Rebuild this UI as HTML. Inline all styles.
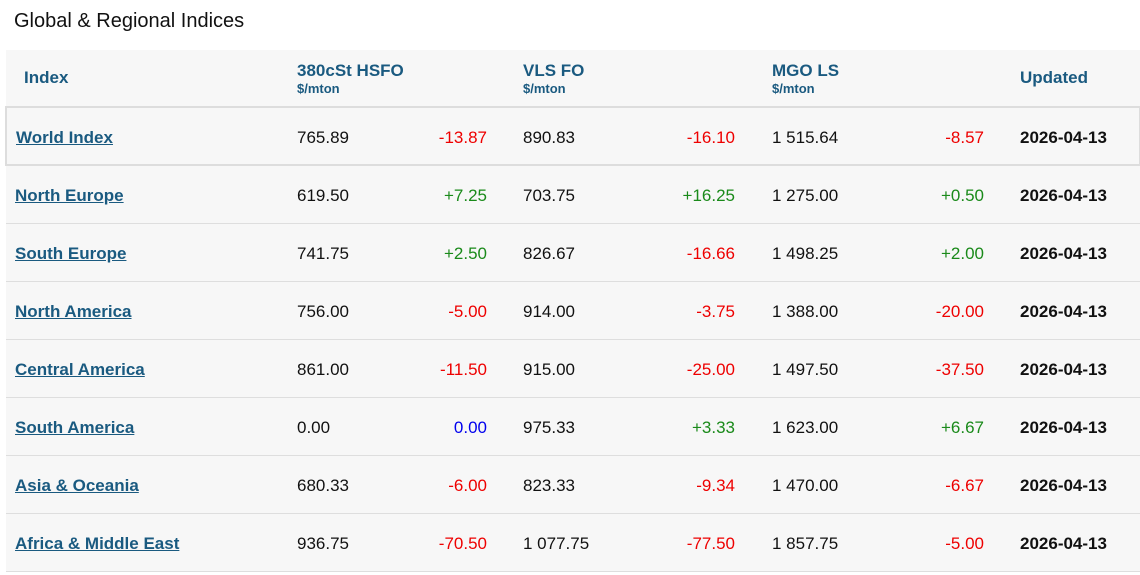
<!DOCTYPE html>
<html><head><meta charset="utf-8"><style>
body{margin:0;width:1140px;height:575px;background:#fff;font-family:"Liberation Sans",Arial,sans-serif;position:relative;overflow:hidden}
.t{position:absolute;left:14px;top:10px;font-size:20px;color:#111}
.tbl{position:absolute;left:6px;top:50px;width:1134px;height:522px;background:#f7f7f7}
.h{position:absolute;color:#1a5a80;font-weight:bold;font-size:17px}
.u{position:absolute;color:#1a5a80;font-size:13px;font-weight:bold}
.row{position:absolute;left:0;width:1134px;height:57px;border-bottom:1px solid #dedede}
.row span{position:absolute;top:20px;font-size:17px;color:#111;white-space:nowrap}
.row a{position:absolute;left:9px;top:20px;font-size:17px;color:#1a5a80;font-weight:bold;text-decoration:underline}
.r{text-align:right;width:120px}
.red{color:#e00!important}.grn{color:#1a8a1a!important}.blu{color:#00e!important}
.d{font-weight:bold}
</style></head><body>
<div class="t">Global &amp; Regional Indices</div>
<div class="tbl">
<div class="h" style="left:18px;top:18px">Index</div>
<div class="h" style="left:291px;top:11px">380cSt HSFO</div>
<div class="u" style="left:291px;top:31px">$/mton</div>
<div class="h" style="left:517px;top:11px">VLS FO</div>
<div class="u" style="left:517px;top:31px">$/mton</div>
<div class="h" style="left:766px;top:11px">MGO LS</div>
<div class="u" style="left:766px;top:31px">$/mton</div>
<div class="h" style="left:1014px;top:18px">Updated</div>
<div id="rows"></div>
</div>
<script>
const names=["World Index","North Europe","South Europe","North America","Central America","South America","Asia & Oceania","Africa & Middle East"];
const hsfo=["765.89","619.50","741.75","756.00","861.00","0.00","680.33","936.75"];
const hsfoChg=["-13.87","+7.25","+2.50","-5.00","-11.50","0.00","-6.00","-70.50"];
const vls=["890.83","703.75","826.67","914.00","915.00","975.33","823.33","1 077.75"];
const vlsChg=["-16.10","+16.25","-16.66","-3.75","-25.00","+3.33","-9.34","-77.50"];
const mgo=["1 515.64","1 275.00","1 498.25","1 388.00","1 497.50","1 623.00","1 470.00","1 857.75"];
const mgoChg=["-8.57","+0.50","+2.00","-20.00","-37.50","+6.67","-6.67","-5.00"];
const dates=["2026-04-13","2026-04-13","2026-04-13","2026-04-13","2026-04-13","2026-04-13","2026-04-13","2026-04-13"];
const c=document.getElementById('rows');
function cls(v){return v.startsWith('+')?'grn':(v.startsWith('-')?'red':'blu');}
names.forEach((n,i)=>{
 const r=document.createElement('div');r.className='row';
 
 
 const top=i==0?57:116+(i-1)*58;
 r.style.top=top+'px';
 const o=i==0?-1:0;
 if(i==0){r.style.border='2px solid #ddd';r.style.left='-1px';r.style.top='56px';r.style.height='56px';r.style.width='1132px';}
 r.innerHTML=`<a href="#" style="${i==0?'left:9px':''}">${n.replace('&','&amp;')}</a>
<span style="left:${291+o}px">${hsfo[i]}</span><span class="r ${cls(hsfoChg[i])}" style="left:${361+o}px">${hsfoChg[i]}</span>
<span style="left:${517+o}px">${vls[i]}</span><span class="r ${cls(vlsChg[i])}" style="left:${609+o}px">${vlsChg[i]}</span>
<span style="left:${766+o}px">${mgo[i]}</span><span class="r ${cls(mgoChg[i])}" style="left:${858+o}px">${mgoChg[i]}</span>
<span class="d" style="left:${1014+o}px">${dates[i]}</span>`;
 const a=r.querySelector('a');
 
 
 c.appendChild(r);
});
</script>
</body></html>
